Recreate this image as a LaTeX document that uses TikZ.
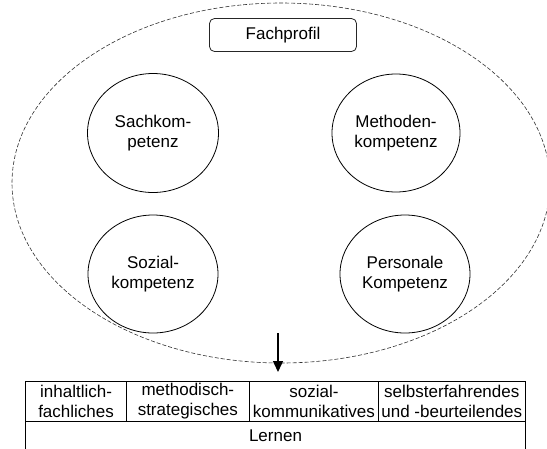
\documentclass[tikz,border=0pt]{standalone}
\usepackage{fontspec}
\setmainfont{Liberation Sans}
\usetikzlibrary{shapes.geometric,arrows.meta}
\begin{document}
\begin{tikzpicture}[x=1pt,y=-1pt,
  txt/.style={font=\fontsize{17}{20}\selectfont, align=center},
  komp/.style={txt, draw, ellipse, line width=0.8pt, inner sep=0pt},
  cell/.style={txt, draw, line width=0.8pt, inner sep=0pt, minimum height=40pt},
  outer/.style={draw, ellipse, dashed, dash pattern=on 4pt off 2pt, line width=0.6pt, black!80, inner sep=0pt},
  title/.style={txt, draw, rounded corners=5pt, line width=0.8pt, black!85, text=black, inner sep=0pt}]
\useasboundingbox (0,0) rectangle (547,448);
\fill[white] (0,0) rectangle (547,448);
\node[outer, minimum width=538pt, minimum height=360pt] (rahmen) at (281,183) {};
\node[title, minimum width=147pt, minimum height=33pt] (fach) at (283,35) {Fachprofil};
\node[komp, minimum width=131pt, minimum height=119pt] (sach) at (153,133) {Sachkom-\\petenz};
\node[komp, minimum width=128pt, minimum height=118pt] (meth) at (396,133) {Methoden-\\kompetenz};
\node[komp, minimum width=130pt, minimum height=118pt] (soz) at (153,274) {Sozial-\\kompetenz};
\node[komp, minimum width=130pt, minimum height=118pt] (pers) at (405,274) {Personale\\Kompetenz};
\coordinate (pfeilA) at (278,333);
\coordinate (pfeilB) at (278,372);
\draw[line width=1.5pt, -{Triangle[length=11pt,width=10pt]}] (pfeilA) -- (pfeilB);
\node[cell, minimum width=100.5pt] (c1) at (76.05,401) {inhaltlich-\\fachliches};
\node[cell, minimum width=123.1pt] (c2) at (187.85,401) {methodisch-\\strategisches};
\node[cell, minimum width=129pt] (c3) at (313.9,401) {sozial-\\kommunikatives};
\node[cell, minimum width=146.8pt] (c4) at (451.8,401) {selbsterfahrendes\\und -beurteilendes};
\node[cell, minimum width=499.4pt, minimum height=29pt] (lernen) at (275.5,435.5) {Lernen};
\end{tikzpicture}
\end{document}
